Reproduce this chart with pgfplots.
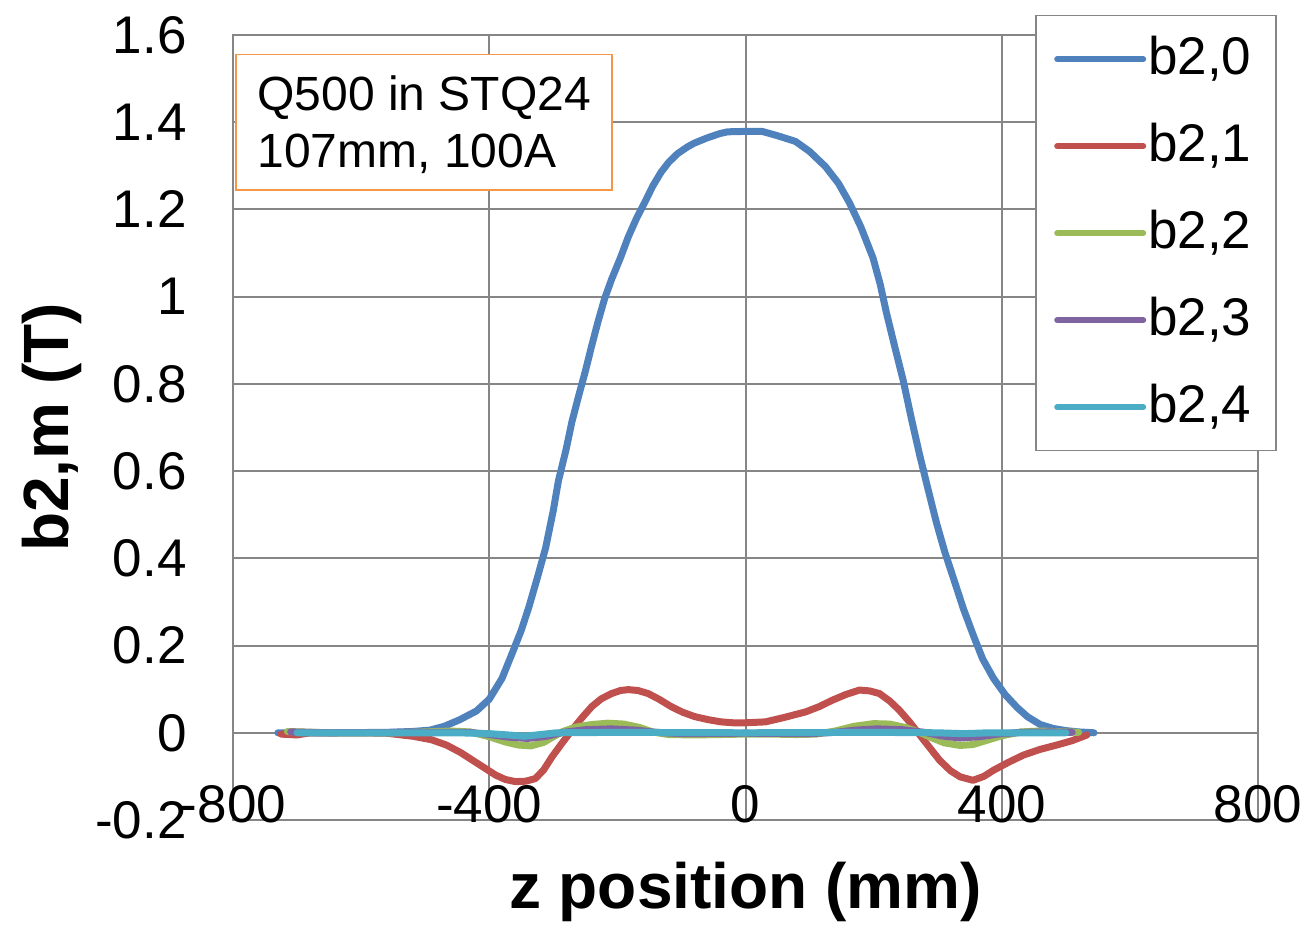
\documentclass[border=0pt]{standalone}
\usepackage{fontspec}
\setmainfont{Liberation Sans}
\usepackage{pgfplots}
\pgfplotsset{compat=1.18}

\definecolor{xlblue}{HTML}{4F81BD}
\definecolor{xlred}{HTML}{C0504D}
\definecolor{xlgreen}{HTML}{9BBB59}
\definecolor{xlpurple}{HTML}{8064A2}
\definecolor{xlcyan}{HTML}{4BACC6}
\definecolor{xlorange}{HTML}{F79646}
\definecolor{xlgrid}{HTML}{868686}

\begin{document}
\begin{tikzpicture}
\path[use as bounding box] (-116.5pt,-54pt) rectangle (538pt,410pt);
\begin{axis}[
  scale only axis, width=512.5pt, height=392.5pt,
  xmin=-800, xmax=800, ymin=-0.2, ymax=1.6,
  xtick={-800,-400,0,400,800},
  xticklabels={-800,-400,0,400,800},
  ytick={-0.2,0,0.2,0.4,0.6,0.8,1,1.2,1.4,1.6},
  yticklabels={-0.2,0,0.2,0.4,0.6,0.8,1,1.2,1.4,1.6},
  /pgf/number format/assume math mode=true,
  grid=major,
  major grid style={xlgrid, line width=1pt},
  axis line style={xlgrid, line width=1pt},
  major tick length=0pt,
  tick label style={font=\fontsize{26.5}{30}\selectfont},
  xticklabel style={anchor=base, inner sep=0pt, yshift=-1pt},
  yticklabel style={anchor=east, inner sep=0pt, xshift=-23pt},
  xlabel={z position (mm)},
  ylabel={b2,m (T)},
  label style={font=\bfseries\fontsize{32}{36}\selectfont, inner sep=0pt},
  xlabel style={at={(axis description cs:0.5,-0.0535)}, anchor=north},
  ylabel style={at={(axis description cs:-0.1473,0.5)}, anchor=south},
  every axis plot/.append style={line width=3.5pt, line join=round, line cap=round, mark=none},
  legend cell align=left,
  legend style={at={(axis description cs:1.0185,1.0255)}, anchor=north east,
    draw=xlgrid, line width=0.75pt, fill=white, inner xsep=9pt, inner ysep=0pt,
    row sep=0pt, column sep=1pt,
    font=\fontsize{26.5}{30}\selectfont,
    nodes={inner sep=0pt, text height=29.25pt, text depth=14.25pt, text width=55pt, align=left}},
  legend image code/.code={%
    \draw[#1, line cap=round, line width=3pt] (1.5pt,0pt) -- (44.5pt,0pt);},
]

% b2,0 : main quadrupole gradient term
\addplot[xlblue] coordinates {
(-730,0) (-650,0) (-560,0.001) (-520,0.003) (-493,0.006) (-470,0.015)
(-446,0.03) (-420,0.05) (-400,0.077) (-380,0.125) (-364,0.183) (-350,0.235)
(-338,0.289) (-325,0.355) (-312,0.424) (-300,0.51) (-292,0.578) (-280,0.65)
(-271,0.713) (-260,0.775) (-250,0.829) (-240,0.888) (-230,0.944) (-220,0.995)
(-209,1.04) (-195,1.09) (-183,1.137) (-170,1.18) (-157,1.217) (-145,1.253)
(-132,1.285) (-120,1.308) (-106,1.328) (-90,1.344) (-80,1.352) (-60,1.364)
(-40,1.374) (-28,1.378) (0,1.379) (26,1.379) (50,1.369) (78,1.356)
(100,1.333) (125,1.298) (145,1.26) (162,1.216) (180,1.16) (199,1.089)
(210,1.03) (220,0.963) (233,0.885) (246,0.809) (259,0.72) (272,0.636)
(285,0.558) (298,0.482) (311,0.415) (324,0.357) (340,0.285) (356,0.222)
(370,0.17) (387,0.125) (405,0.088) (424,0.058) (440,0.037) (460,0.019)
(480,0.01) (500,0.005) (520,0.002) (544,0)
};
\addlegendentry{b2,0}

% b2,1
\addplot[xlred] coordinates {
(-725,-0.003) (-700,-0.005) (-680,0) (-600,0) (-560,-0.001) (-519,-0.008)
(-490,-0.016) (-467,-0.028) (-445,-0.045) (-426,-0.063) (-408,-0.08)
(-390,-0.097) (-375,-0.107) (-359,-0.112) (-343,-0.111) (-328,-0.105)
(-315,-0.085) (-302,-0.055) (-287,-0.025) (-271,0.006) (-255,0.035)
(-240,0.06) (-225,0.078) (-209,0.09) (-195,0.097) (-183,0.099) (-168,0.097)
(-152,0.09) (-135,0.077) (-116,0.06) (-98,0.047) (-79,0.037) (-58,0.03)
(-38,0.025) (-20,0.023) (0,0.023) (31,0.025) (60,0.035) (94,0.048)
(115,0.06) (136,0.075) (157,0.088) (178,0.098) (194,0.096) (209,0.09)
(225,0.073) (240,0.052) (256,0.025) (272,-0.005) (288,-0.035) (303,-0.063)
(320,-0.087) (335,-0.101) (355,-0.109) (372,-0.1) (387,-0.086) (410,-0.068)
(434,-0.051) (460,-0.038) (486,-0.028) (510,-0.018) (533,-0.005)
};
\addlegendentry{b2,1}

% b2,2
\addplot[xlgreen] coordinates {
(-715,0.003) (-650,0) (-550,0) (-500,0.002) (-460,0.004) (-430,0.002)
(-400,-0.009) (-375,-0.021) (-355,-0.028) (-335,-0.03) (-315,-0.022)
(-300,-0.009) (-285,0.003) (-265,0.013) (-240,0.019) (-215,0.022)
(-190,0.02) (-165,0.012) (-145,0.002) (-120,-0.004) (-80,-0.005)
(-40,-0.004) (0,-0.003) (40,-0.003) (80,-0.004) (110,-0.003) (140,0.004)
(170,0.015) (200,0.021) (225,0.02) (250,0.012) (270,0.002) (290,-0.011)
(310,-0.023) (335,-0.029) (355,-0.027) (375,-0.018) (400,-0.007)
(430,0.002) (460,0.004) (500,0.002) (520,0.001)
};
\addlegendentry{b2,2}

% b2,3
\addplot[xlpurple] coordinates {
(-710,0.002) (-650,0) (-500,0.001) (-430,0.001) (-400,-0.004) (-370,-0.01)
(-340,-0.013) (-310,-0.008) (-285,0.001) (-250,0.007) (-210,0.009)
(-170,0.006) (-140,0.001) (-100,-0.002) (0,-0.001) (100,-0.002) (140,0.001)
(170,0.006) (205,0.009) (245,0.007) (280,0.001) (305,-0.007) (335,-0.012)
(365,-0.009) (395,-0.003) (430,0.001) (480,0.002) (510,0.001)
};
\addlegendentry{b2,3}

% b2,4
\addplot[xlcyan] coordinates {
(-700,0) (-600,0) (-450,0) (-400,-0.002) (-370,-0.005) (-345,-0.008)
(-320,-0.004) (-295,0) (-200,0.001) (0,0) (200,0.001) (300,0) (340,-0.002)
(380,0) (500,0)
};
\addlegendentry{b2,4}

% annotation box
\draw[xlorange, line width=0.75pt, fill=white]
  (axis cs:-795,1.555) rectangle (axis cs:-208.6,1.245);
\node[anchor=base west, inner sep=0pt, font=\fontsize{24}{28}\selectfont]
  at (axis cs:-762.6,1.4266) {Q500 in STQ24};
\node[anchor=base west, inner sep=0pt, font=\fontsize{24}{28}\selectfont]
  at (axis cs:-762.6,1.2959) {107mm, 100A};
\end{axis}
\end{tikzpicture}
\end{document}
